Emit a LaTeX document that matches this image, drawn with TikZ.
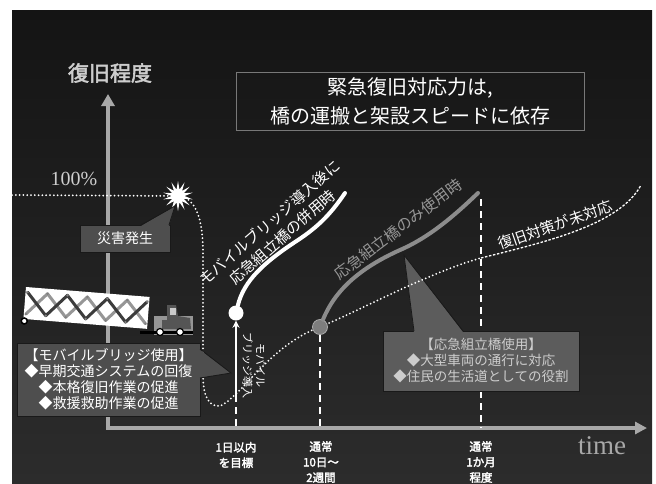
\documentclass[tikz,border=0pt]{standalone}
\usepackage{fontspec}
\usepackage{tikz}
\usetikzlibrary{positioning, arrows.meta, shapes.geometric}
\newfontfamily\jpfont{Noto Sans CJK JP}
\newfontfamily\jpbold[FakeBold=2.5]{Noto Sans CJK JP}
\newfontfamily\romanfont{Liberation Serif}
\definecolor{bgtop}{RGB}{20,20,20}
\definecolor{bgbottom}{RGB}{44,44,44}
\definecolor{axisgray}{RGB}{168,168,168}
\definecolor{titleedge}{RGB}{120,120,120}
\definecolor{boxgray}{RGB}{78,78,78}
\definecolor{boxgraylight}{RGB}{92,92,92}
\definecolor{boxedge}{RGB}{25,25,25}
\definecolor{curvegray}{RGB}{140,140,140}
\definecolor{labelgray}{RGB}{150,150,150}
\definecolor{textgray}{RGB}{205,205,205}
\definecolor{dotgray}{RGB}{125,125,125}
\definecolor{dotedge}{RGB}{170,170,170}
\definecolor{latticelight}{RGB}{150,150,150}
\definecolor{latticedark}{RGB}{60,60,60}
\definecolor{truckbg}{RGB}{150,150,150}
\definecolor{truckbody}{RGB}{85,85,85}

\begin{document}
\begin{tikzpicture}[x=1pt, y=-1pt,
  axis/.style={draw=axisgray, line width=4pt, arrows={Triangle[length=12pt,width=13pt]-Triangle[length=12pt,width=12pt]}},
  dotline/.style={draw=white, line width=2pt, line cap=round, dash pattern=on 0pt off 3.8pt},
  thinline/.style={draw=white, line width=1.3pt, dash pattern=on 2.5pt off 1.6pt},
  guide/.style={draw=white, line width=2pt, dash pattern=on 7pt off 5pt},
  callout/.style={fill=boxgray, draw=boxedge, line width=0.8pt, inner sep=0pt, align=center, text=white},
  stagedot/.style={circle, minimum size=15pt, inner sep=0pt},
  burst/.style={star, star points=14, star point ratio=2.3, fill=white, minimum size=30pt, inner sep=0pt},
  lattice/.style={line width=3pt, line cap=round, line join=round},
  ticklabel/.style={text=white, align=center, font=\jpbold\fontsize{11.5}{15.5}\selectfont}
]
  % Background
  \useasboundingbox (0,0) rectangle (656,483);
  \shade[top color=bgtop, bottom color=bgbottom] (12,10) rectangle (652,483);

  % Title
  \node[draw=titleedge, line width=1pt, minimum width=348pt, minimum height=58pt, align=center, text=white,
        font=\jpfont\fontsize{20}{29}\selectfont] (title) at (410,101) {緊急復旧対応力は,\\橋の運搬と架設スピードに依存};

  % Axes
  \coordinate (origin) at (108,428);
  \coordinate (ytip) at (108,94);
  \coordinate (xtip) at (647,428);
  \draw[axis] (ytip) -- (origin) -- (xtip);
  \node[text=textgray, font=\jpbold\fontsize{21}{21}\selectfont] (ylabel) at (110,73) {復旧程度};
  \node[text=axisgray, font=\romanfont\fontsize{27}{27}\selectfont] (xlabel) at (602,446) {time};
  \node[text=textgray, font=\romanfont\fontsize{20}{20}\selectfont] (full) at (74,179) {100\%};

  % Time marks
  \coordinate (t1) at (236,428);
  \coordinate (t2) at (320,428);
  \coordinate (t3) at (481,428);
  \coordinate (top3) at (481,199);
  \draw[guide] (top3) -- (t3);

  % Assembled bridge callout
  \node[callout, fill=boxgraylight, text=textgray, minimum width=196pt, minimum height=60pt,
        font=\jpfont\fontsize{13.5}{16}\selectfont] (assembly) at (481,361)
        {【応急組立橋使用】\\◆大型車両の通行に対応\\◆住民の生活道としての役割};
  \fill[boxgraylight] (414,332) -- (404,255) -- (463,332) -- cycle;
  \draw[boxedge, line width=0.8pt] (414,331) -- (404,255) -- (463,331);

  % Recovery with no countermeasure
  \coordinate (left100) at (12,195);
  \coordinate (hit) at (178,196);
  \coordinate (low) at (220,406);
  \coordinate (gpt) at (320,327);
  \coordinate (turn) at (481,258);
  \coordinate (late) at (641,185);
  \draw[dotline] (left100) -- (hit);
  \draw[dotline] (hit) .. controls (195,197) and (203,218) .. (203,252) -- (203,376)
    .. controls (203,398) and (210,407) .. (low)
    .. controls (240,398) and (270,345) .. (gpt)
    .. controls (365,308) and (430,272) .. (turn);
  \draw[thinline] (turn) .. controls (545,242) and (620,225) .. (late);
  \node[burst] (star) at (hit) {};

  % Disaster callout
  \node[callout, minimum width=90pt, minimum height=27pt, font=\jpfont\fontsize{14}{14}\selectfont] (disaster) at (125,238.5) {災害発生};
  \fill[boxgray] (141,226) -- (175,206) -- (169,226) -- cycle;
  \draw[boxedge, line width=0.8pt] (141,225) -- (175,206) -- (169,225);

  % Mobile bridge
  \begin{scope}[shift={(26,287)}, rotate=-4.6]
    \fill[white] (0,0) rectangle (124,32);
    \draw[lattice, draw=latticelight] (2,27) -- (22,5) -- (42,27) -- (62,5) -- (82,27) -- (102,5) -- (122,27);
    \draw[lattice, draw=latticedark] (2,5) -- (22,27) -- (42,5) -- (62,27) -- (82,5) -- (102,27) -- (122,5);
    \foreach \x in {2,22,...,122}
      \fill[gray] (\x,5) circle (1.3) (\x,27) circle (1.3);
    \filldraw[fill=white, draw=black, line width=1.5pt] (1,34) circle (3);
  \end{scope}

  % Truck
  \fill[truckbg] (154,316) rectangle (193,335);
  \fill[truckbody] (167,305) -- (176,305) -- (178,316) -- (190,318) -- (191,329) -- (162,329) -- (162,320) -- (167,320) -- cycle;
  \fill[truckbg!50] (170,308) rectangle (176,315);
  \fill[black] (140,331) rectangle (193,334);
  \filldraw[fill=white, draw=black, line width=1.2pt] (160,332) circle (3.5) (180,332) circle (3.5);

  % Mobile bridge callout
  \node[callout, minimum width=183pt, minimum height=73pt, font=\jpfont\fontsize{14}{16}\selectfont] (mobile) at (108.5,379.5)
        {【モバイルブリッジ使用】\\◆早期交通システムの回復\\◆本格復旧作業の促進\\◆救援救助作業の促進};
  \fill[boxgray] (199,349) -- (231,373) -- (199,378) -- cycle;
  \draw[boxedge, line width=0.8pt] (200,349) -- (231,373) -- (200,378);

  % Recovery curves
  \coordinate (wpt) at (236,313);
  \coordinate (base) at (236,395);
  \coordinate (wend) at (345,193);
  \coordinate (gend) at (478,193);
  \node[stagedot, fill=white] (wcirc) at (wpt) {};
  \node[stagedot, fill=dotgray, draw=dotedge, line width=0.8pt] (gcirc) at (gpt) {};
  \draw[guide] (base) -- (t1);
  \draw[guide] (gcirc) -- (t2);
  \draw[white, line width=1.6pt, -{Stealth[length=7pt,width=7pt]}] (base) -- (wcirc);
  \draw[white, line width=4pt, line cap=round] (wcirc) .. controls (244,280) and (265,262) .. (295,242)
    .. controls (320,226) and (332,212) .. (wend);
  \draw[curvegray, line width=4pt, line cap=round] (gcirc) .. controls (335,290) and (360,268) .. (400,250)
    .. controls (430,237) and (455,215) .. (gend);

  % Curve labels
  \node[rotate=41, text=white, align=center, font=\jpfont\fontsize{15}{19}\selectfont] (combined) at (276,230)
        {モバイルブリッジ導入後に\\応急組立橋の併用時};
  \node[rotate=37, text=labelgray, font=\jpfont\fontsize{15.5}{15.5}\selectfont] (assemblyonly) at (398,229) {応急組立橋のみ使用時};
  \node[rotate=19, text=white, font=\jpfont\fontsize{15}{15}\selectfont] (noaction) at (555,225) {復旧対策が未対応};
  \node[rotate=-90, text=white, align=center, font=\jpfont\fontsize{11}{13}\selectfont] (install) at (254,365) {モバイル\\ブリッジ導入};

  % Time labels
  \node[ticklabel] (day) at (236,455) {1日以内\\を目標};
  \node[ticklabel] (weeks) at (321,462) {通常\\10日～\\2週間};
  \node[ticklabel] (month) at (481,462) {通常\\1か月\\程度};
\end{tikzpicture}
\end{document}
